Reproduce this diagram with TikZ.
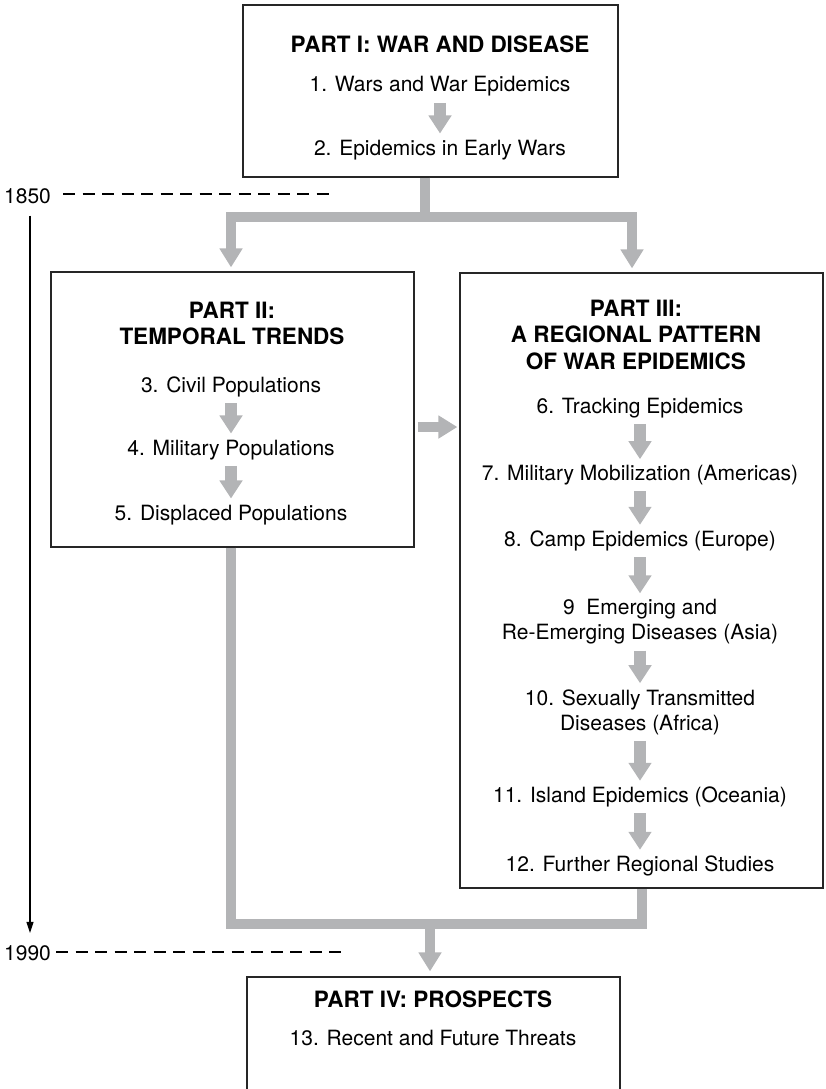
\documentclass[tikz,border=0pt]{standalone}
\usepackage{fontspec}
\setmainfont{TeX Gyre Heros}
\usetikzlibrary{arrows.meta}

\definecolor{linkgray}{RGB}{179,180,182}

\begin{document}
\begin{tikzpicture}[x=1pt,y=-1pt,
  partbox/.style={draw=black!85,line width=1.2pt,inner sep=0pt},
  heading/.style={font=\fontsize{22.5pt}{26.5pt}\selectfont\bfseries,align=center,inner sep=0pt},
  item/.style={font=\fontsize{21pt}{25pt}\selectfont,align=center,inner sep=6pt},
  year/.style={font=\fontsize{21pt}{25pt}\selectfont,inner sep=0pt},
  link/.style={draw=linkgray,line width=10pt,line join=miter},
  bigtip/.style={-{Triangle[width=22pt,length=19pt]}},
  stepdown/.style={draw=linkgray,line width=12pt,-{Triangle[width=22pt,length=18pt]}},
  yearline/.style={line width=1.1pt,dash pattern=on 12pt off 7.5pt},
  timeline/.style={line width=1.1pt,-{Triangle[width=7pt,length=11pt]}}]

\useasboundingbox (0,0) rectangle (825,1089);

% Boxes
\node[partbox,minimum width=375,minimum height=172] (p1) at (430.5,91) {};
\node[partbox,minimum width=363,minimum height=275] (p2) at (232.5,409.5) {};
\node[partbox,minimum width=363,minimum height=615] (p3) at (641.5,580.5) {};
\node[partbox,minimum width=373,minimum height=123] (p4) at (433.5,1038.5) {};

% Headings
\node[heading,anchor=base] (h1) at (440,53) {PART I: WAR AND DISEASE};
\node[heading] (h2) at (232,323.5) {PART II:\\TEMPORAL TRENDS};
\node[heading] (h3) at (636,334.6) {PART III:\\A REGIONAL PATTERN\\OF WAR EPIDEMICS};
\node[heading,anchor=base] (h4) at (433,1007) {PART IV: PROSPECTS};

% Chapters
\node[item,anchor=base] (i1) at (440,92) {1. Wars and War Epidemics};
\node[item,anchor=base] (i2) at (440,155) {2. Epidemics in Early Wars};
\node[item,anchor=base] (i3) at (231,392.7) {3. Civil Populations};
\node[item,anchor=base] (i4) at (231,455) {4. Military Populations};
\node[item,anchor=base] (i5) at (231,520) {5. Displaced Populations};
\node[item,anchor=base] (i6) at (640,413) {6. Tracking Epidemics};
\node[item,anchor=base] (i7) at (640,480.7) {7. Military Mobilization (Americas)};
\node[item,anchor=base] (i8) at (640,546.7) {8. Camp Epidemics (Europe)};
\node[item] (i9) at (640,622) {9\ \ Emerging and\\Re-Emerging Diseases (Asia)};
\node[item] (i10) at (640,712) {10. Sexually Transmitted\\Diseases (Africa)};
\node[item,anchor=base] (i11) at (640,802.7) {11. Island Epidemics (Oceania)};
\node[item,anchor=base] (i12) at (640,871.7) {12. Further Regional Studies};
\node[item,anchor=base] (i13) at (433,1045) {13. Recent and Future Threats};

\foreach \a/\b in {i1/i2,i3/i4,i4/i5,i6/i7,i7/i8,i8/i9,i9/i10,i10/i11,i11/i12}
  \draw[stepdown] (\a) -- (\b);

% Connectors
\coordinate (split) at (425,217);
\coordinate (merge) at (430,924);
\coordinate (across) at (0,427);

\draw[link] (p1.south -| split) -- (split);
\draw[link,{Triangle[width=22pt,length=19pt]}-{Triangle[width=22pt,length=19pt]},shorten <=4pt,shorten >=4pt]
  ([xshift=-1.5pt]p2.north) |- (split) -| ([xshift=-9.5pt]p3.north);
\draw[link,bigtip,shorten <=3pt,shorten >=2pt] (p2.east |- across) -- (p3.west |- across);
\draw[link] ([xshift=-1.5pt]p2.south) |- (merge) -| (p3.south);
\draw[link,bigtip,shorten >=5pt] (merge) -- (merge |- p4.north);

% Time line
\node[year,anchor=base] (y1850) at (27.5,203) {1850};
\node[year,anchor=base] (y1990) at (27.5,960) {1990};
\coordinate (end1850) at (330,194);
\coordinate (end1990) at (347,952);
\draw[yearline,shorten <=12pt] (y1850.east |- end1850) -- (end1850);
\draw[yearline,shorten <=5pt] (y1990.east |- end1990) -- (end1990);
\draw[timeline,shorten <=12pt,shorten >=12pt] ([xshift=2.5pt]y1850.south) -- ([xshift=2.5pt]y1990.north);
\end{tikzpicture}
\end{document}
